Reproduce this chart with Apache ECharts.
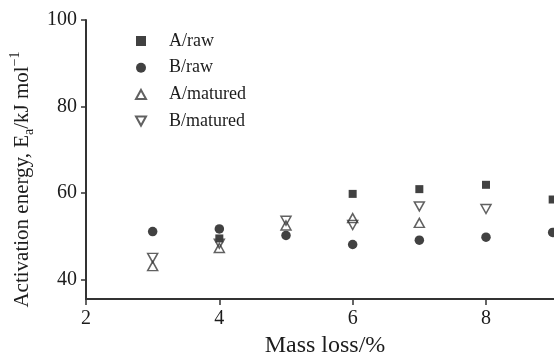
<!DOCTYPE html>
<html>
<head>
<meta charset="utf-8">
<script src="https://cdn.jsdelivr.net/npm/echarts@6/dist/echarts.min.js"></script>
<style>
  html, body { margin: 0; padding: 0; background: #fff; }
  #chart { width: 554px; height: 354px; }
</style>
</head>
<body>
<div id="chart"></div>
<script>
// Mass loss (%) at which the activation energy was evaluated
const massLoss = [3, 4, 5, 6, 7, 8, 9];

// Activation energy, kJ/mol (null = no point shown)
const aRaw      = [null, 49.5, null, 59.8, 60.9, 61.9, 58.5];
const bRaw      = [51.1, 51.7, 50.2, 48.1, 49.1, 49.8, 50.9];
const aMatured  = [43.1, 47.3, 52.5, 54.2, 53.1, null, null];
const bMatured  = [45.0, 48.3, 53.6, 52.6, 56.9, 56.3, null];

// Axis tick labels
const xTicks = [2, 4, 6, 8];
const yTicks = [40, 60, 80, 100];

const FONT = 'Liberation Serif';
const INK = '#1c1c1c';

// Marker shapes
const UP_TRI = 'path://M5,0 L10,9 L0,9 Z';
const DOWN_TRI = 'path://M0,0 L10,0 L5,9 Z';

function pairs(vals) {
  const out = [];
  vals.forEach((v, i) => { if (v !== null) out.push([massLoss[i], v]); });
  return out;
}

const hollow = { color: 'rgba(0,0,0,0)', borderColor: '#3a3a3a', borderWidth: 1.5 };

const chart = echarts.init(document.getElementById('chart'), null, { renderer: 'canvas' });
chart.setOption({
  backgroundColor: '#fff',
  animation: false,
  grid: { left: 86, right: 0, top: 20, bottom: 55, containLabel: false, outerBoundsMode: 'none' },
  legend: {
    orient: 'vertical',
    left: 130,
    top: 27,
    itemWidth: 10,
    itemHeight: 10,
    itemGap: 8.7,
    symbolKeepAspect: true,
    textStyle: { fontFamily: FONT, fontSize: 18, color: INK, lineHeight: 18, padding: [0, 0, 0, 18] },
    data: [
      { name: 'A/raw', icon: 'rect', itemStyle: { color: '#111' } },
      { name: 'B/raw', icon: 'circle', itemStyle: { color: '#111' } },
      { name: 'A/matured', icon: UP_TRI },
      { name: 'B/matured', icon: DOWN_TRI }
    ]
  },
  xAxis: {
    type: 'value',
    min: 2,
    max: 9.02,
    name: 'Mass loss/%',
    nameLocation: 'middle',
    nameGap: 31,
    nameTextStyle: { fontFamily: FONT, fontSize: 24, color: INK, padding: [0, 0, 0, 10] },
    axisLine: { show: true, lineStyle: { color: '#333', width: 2 } },
    axisTick: { show: true, length: 6, customValues: xTicks, lineStyle: { color: '#333', width: 1.5 } },
    axisLabel: { customValues: xTicks, fontFamily: FONT, fontSize: 20, color: INK, margin: 10 },
    splitLine: { show: false }
  },
  yAxis: {
    type: 'value',
    min: 35.5,
    max: 100,
    name: '{n|Activation energy, E}{sub|a}{n|/kJ mol}{sup|\u22121}',
    nameLocation: 'middle',
    nameRotate: 90,
    nameGap: 52,
    nameTextStyle: {
      fontFamily: FONT, fontSize: 21, color: INK,
      padding: [0, 40, 0, 0],
      rich: {
        n: { fontFamily: FONT, fontSize: 21, color: INK, lineHeight: 24, verticalAlign: 'middle' },
        sub: { fontFamily: FONT, fontSize: 14, color: INK, lineHeight: 24, verticalAlign: 'bottom', padding: [0, 0, -2, 0] },
        sup: { fontFamily: FONT, fontSize: 14, color: INK, lineHeight: 24, verticalAlign: 'top', padding: [-2, 0, 0, 0] }
      }
    },
    axisLine: { show: true, lineStyle: { color: '#333', width: 2 } },
    axisTick: { show: true, length: 5, customValues: yTicks, lineStyle: { color: '#333', width: 1.5 } },
    axisLabel: { customValues: yTicks, fontFamily: FONT, fontSize: 20, color: INK, margin: 9 },
    splitLine: { show: false }
  },
  series: [
    {
      name: 'A/raw', type: 'scatter', symbol: 'rect', symbolSize: 8,
      itemStyle: { color: '#111' }, data: pairs(aRaw)
    },
    {
      name: 'B/raw', type: 'scatter', symbol: 'circle', symbolSize: 9.5,
      itemStyle: { color: '#111' }, data: pairs(bRaw)
    },
    {
      name: 'A/matured', type: 'scatter', symbol: UP_TRI, symbolSize: [10, 9],
      itemStyle: hollow, data: pairs(aMatured)
    },
    {
      name: 'B/matured', type: 'scatter', symbol: DOWN_TRI, symbolSize: [10, 9],
      itemStyle: hollow, data: pairs(bMatured)
    }
  ]
});
</script>
</body>
</html>
